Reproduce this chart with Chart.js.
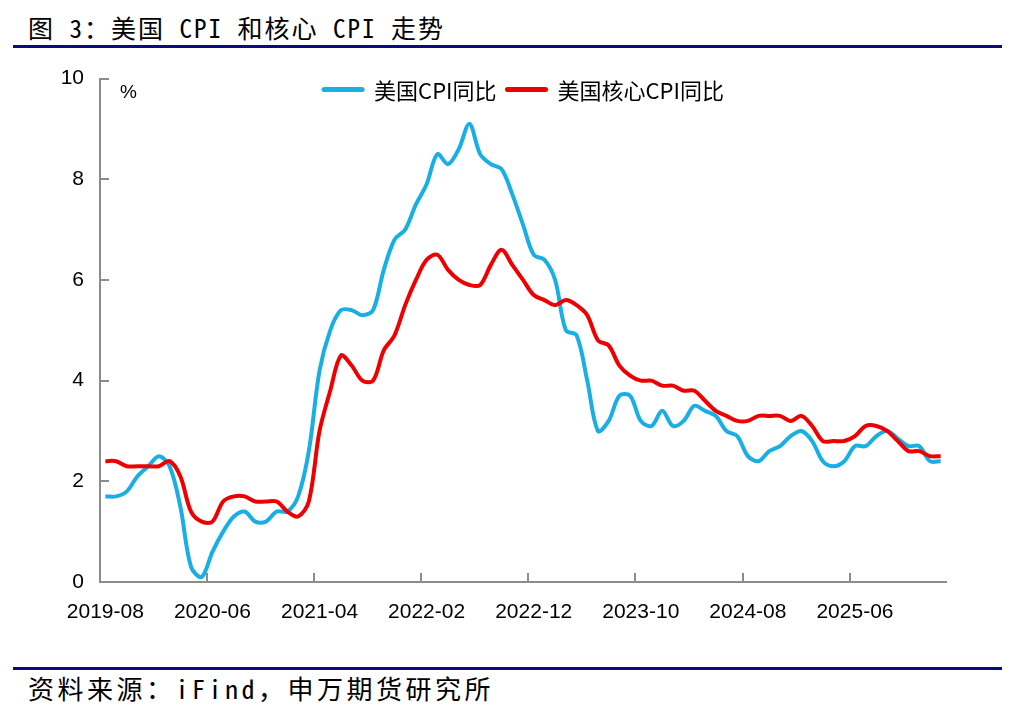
<!DOCTYPE html>
<html>
<head>
<meta charset="utf-8">
<script src="https://cdn.jsdelivr.net/npm/chart.js@4.4.1/dist/chart.umd.min.js"></script>
<style>
  html, body { margin: 0; padding: 0; background: #fff; }
  body { width: 1014px; height: 708px; position: relative; overflow: hidden; }
  .cap {
    position: absolute; left: 28px; white-space: nowrap; color: #000;
    font-family: "Noto Sans Mono CJK SC", "DejaVu Sans Mono", "Noto Sans CJK SC", monospace;
  }
  #title { top: 12px; font-size: 25px; line-height: 30px; letter-spacing: 2px; }
  #source { top: 673px; font-size: 26px; line-height: 30px; letter-spacing: 3.5px; }
  .rule { position: absolute; left: 13px; width: 989px; height: 3px; background: #0b0b7f; }
  #chartBox { position: absolute; left: 0; top: 50px; width: 1014px; height: 590px; }
</style>
</head>
<body>
<div id="title" class="cap">图 3：美国 CPI 和核心 CPI 走势</div>
<div class="rule" style="top:45px"></div>
<div id="chartBox"><canvas id="cpiChart" width="1014" height="590"></canvas></div>
<div class="rule" style="top:667px"></div>
<div id="source" class="cap">资料来源：iFind，申万期货研究所</div>

<script>
// monthly categories, 2019-08 .. 2026-02
const months = [
    '2019-08', '2019-09', '2019-10', '2019-11', '2019-12',
    '2020-01', '2020-02', '2020-03', '2020-04', '2020-05', '2020-06',
    '2020-07', '2020-08', '2020-09', '2020-10', '2020-11', '2020-12',
    '2021-01', '2021-02', '2021-03', '2021-04', '2021-05', '2021-06',
    '2021-07', '2021-08', '2021-09', '2021-10', '2021-11', '2021-12',
    '2022-01', '2022-02', '2022-03', '2022-04', '2022-05', '2022-06',
    '2022-07', '2022-08', '2022-09', '2022-10', '2022-11', '2022-12',
    '2023-01', '2023-02', '2023-03', '2023-04', '2023-05', '2023-06',
    '2023-07', '2023-08', '2023-09', '2023-10', '2023-11', '2023-12',
    '2024-01', '2024-02', '2024-03', '2024-04', '2024-05', '2024-06',
    '2024-07', '2024-08', '2024-09', '2024-10', '2024-11', '2024-12',
    '2025-01', '2025-02', '2025-03', '2025-04', '2025-05', '2025-06',
    '2025-07', '2025-08', '2025-09', '2025-10', '2025-11', '2025-12',
    '2026-01', '2026-02'
];

// 美国CPI同比 (%)
const cpiYoy = [
    1.7, 1.7, 1.8, 2.1, 2.3,
    2.5, 2.3, 1.5, 0.3, 0.1, 0.6, 1.0, 1.3, 1.4, 1.2, 1.2, 1.4,
    1.4, 1.7, 2.6, 4.2, 5.0, 5.4, 5.4, 5.3, 5.4, 6.2, 6.8, 7.0,
    7.5, 7.9, 8.5, 8.3, 8.6, 9.1, 8.5, 8.3, 8.2, 7.7, 7.1, 6.5,
    6.4, 6.0, 5.0, 4.9, 4.0, 3.0, 3.2, 3.7, 3.7, 3.2, 3.1, 3.4,
    3.1, 3.2, 3.5, 3.4, 3.3, 3.0, 2.9, 2.5, 2.4, 2.6, 2.7, 2.9,
    3.0, 2.8, 2.4, 2.3, 2.4, 2.7, 2.7, 2.9, 3.0, 2.85, 2.7, 2.7,
    2.4, 2.4
];

// 美国核心CPI同比 (%)
const coreCpiYoy = [
    2.4, 2.4, 2.3, 2.3, 2.3,
    2.3, 2.4, 2.1, 1.4, 1.2, 1.2, 1.6, 1.7, 1.7, 1.6, 1.6, 1.6,
    1.4, 1.3, 1.6, 3.0, 3.8, 4.5, 4.3, 4.0, 4.0, 4.6, 4.9, 5.5,
    6.0, 6.4, 6.5, 6.2, 6.0, 5.9, 5.9, 6.3, 6.6, 6.3, 6.0, 5.7,
    5.6, 5.5, 5.6, 5.5, 5.3, 4.8, 4.7, 4.3, 4.1, 4.0, 4.0, 3.9,
    3.9, 3.8, 3.8, 3.6, 3.4, 3.3, 3.2, 3.2, 3.3, 3.3, 3.3, 3.2,
    3.3, 3.1, 2.8, 2.8, 2.8, 2.9, 3.1, 3.1, 3.0, 2.8, 2.6, 2.6,
    2.5, 2.5
];

// x-axis labels shown every 10 months
const tickLabels = ['2019-08', '2020-06', '2021-04', '2022-02', '2022-12', '2023-10', '2024-08', '2025-06'];
const yTicks = [0, 2, 4, 6, 8, 10];

const seriesNames = ['美国CPI同比', '美国核心CPI同比'];
const seriesColors = ['rgb(25,174,228)', 'rgb(238,0,0)'];

const AXIS_COLOR = '#8c8c8c';

/**
 * Inward tick marks (Excel style), drawn from the scales
 */
const innerTicks = {
    id: 'innerTicks',
    afterDraw(chart) {
        const { ctx, chartArea, scales } = chart;
        const len = 9;
        ctx.save();
        ctx.strokeStyle = AXIS_COLOR;
        ctx.lineWidth = 2;
        ctx.beginPath();
        yTicks.forEach(v => {
            const y = Math.round(scales.y.getPixelForValue(v));
            ctx.moveTo(chartArea.left, y);
            ctx.lineTo(chartArea.left + len, y);
        });
        tickLabels.forEach(lbl => {
            const i = months.indexOf(lbl);
            if (i <= 0) return;
            const x = Math.round((scales.x.getPixelForValue(i - 1) + scales.x.getPixelForValue(i)) / 2);
            ctx.moveTo(x, chartArea.bottom);
            ctx.lineTo(x, chartArea.bottom - len);
        });
        ctx.stroke();
        ctx.restore();
    }
};

/**
 * Legend inside plot area + unit label
 */
const innerLegend = {
    id: 'innerLegend',
    afterDraw(chart) {
        const { ctx, chartArea } = chart;
        const lineW = 42, gap = 10, between = 9;
        ctx.save();
        ctx.font = '22px "Noto Sans CJK SC"';
        ctx.textBaseline = 'middle';
        const items = chart.data.datasets.map(ds => ({
            text: ds.label,
            color: ds.borderColor,
            w: ctx.measureText(ds.label).width
        }));
        const total = items.reduce((s, it) => s + lineW + gap + it.w, 0) + between * (items.length - 1);
        let x = (chartArea.left + chartArea.right) / 2 - total / 2;
        const y = chartArea.top + 11;
        items.forEach(it => {
            ctx.strokeStyle = it.color;
            ctx.lineWidth = 5;
            ctx.lineCap = 'round';
            ctx.beginPath();
            ctx.moveTo(x + 2, y);
            ctx.lineTo(x + lineW - 2, y);
            ctx.stroke();
            ctx.fillStyle = '#000';
            ctx.fillText(it.text, x + lineW + gap, y + 1);
            x += lineW + gap + it.w + between;
        });

        ctx.font = '19px "Liberation Sans"';
        ctx.fillStyle = '#000';
        ctx.fillText('%', chartArea.left + 20, chartArea.top + 14);
        ctx.restore();
    }
};

Chart.defaults.font.family = '"Liberation Sans", Arial, sans-serif';
Chart.defaults.color = '#000';

const ctx = document.getElementById('cpiChart').getContext('2d');
new Chart(ctx, {
    type: 'line',
    data: {
        labels: months,
        datasets: [
            {
                label: seriesNames[0],
                data: cpiYoy,
                borderColor: seriesColors[0],
                backgroundColor: seriesColors[0],
                borderWidth: 4,
                pointRadius: 0,
                tension: 0.33,
                order: 2
            },
            {
                label: seriesNames[1],
                data: coreCpiYoy,
                borderColor: seriesColors[1],
                backgroundColor: seriesColors[1],
                borderWidth: 4,
                pointRadius: 0,
                tension: 0.33,
                order: 1
            }
        ]
    },
    options: {
        responsive: false,
        animation: false,
        devicePixelRatio: 1,
        layout: {
            padding: { left: 0, right: 68, top: 26, bottom: 0 }
        },
        scales: {
            x: {
                offset: true,
                grid: { display: true, drawOnChartArea: false, drawTicks: false, offset: true },
                border: { display: true, color: AXIS_COLOR, width: 2 },
                ticks: {
                    autoSkip: false,
                    maxRotation: 0,
                    padding: 18,
                    font: { size: 21 },
                    callback: function (value, index) {
                        const lbl = months[index];
                        return tickLabels.includes(lbl) ? lbl : null;
                    }
                },
                afterFit: function (scale) { scale.height = 58; }
            },
            y: {
                min: 0,
                max: 10,
                grid: { display: true, drawOnChartArea: false, drawTicks: false },
                border: { display: true, color: AXIS_COLOR, width: 2 },
                ticks: {
                    stepSize: 2,
                    padding: 16,
                    font: { size: 21 }
                },
                afterFit: function (scale) { scale.width = 100; }
            }
        },
        plugins: {
            legend: { display: false },
            tooltip: { enabled: false }
        }
    },
    plugins: [innerTicks, innerLegend]
});
</script>
</body>
</html>
